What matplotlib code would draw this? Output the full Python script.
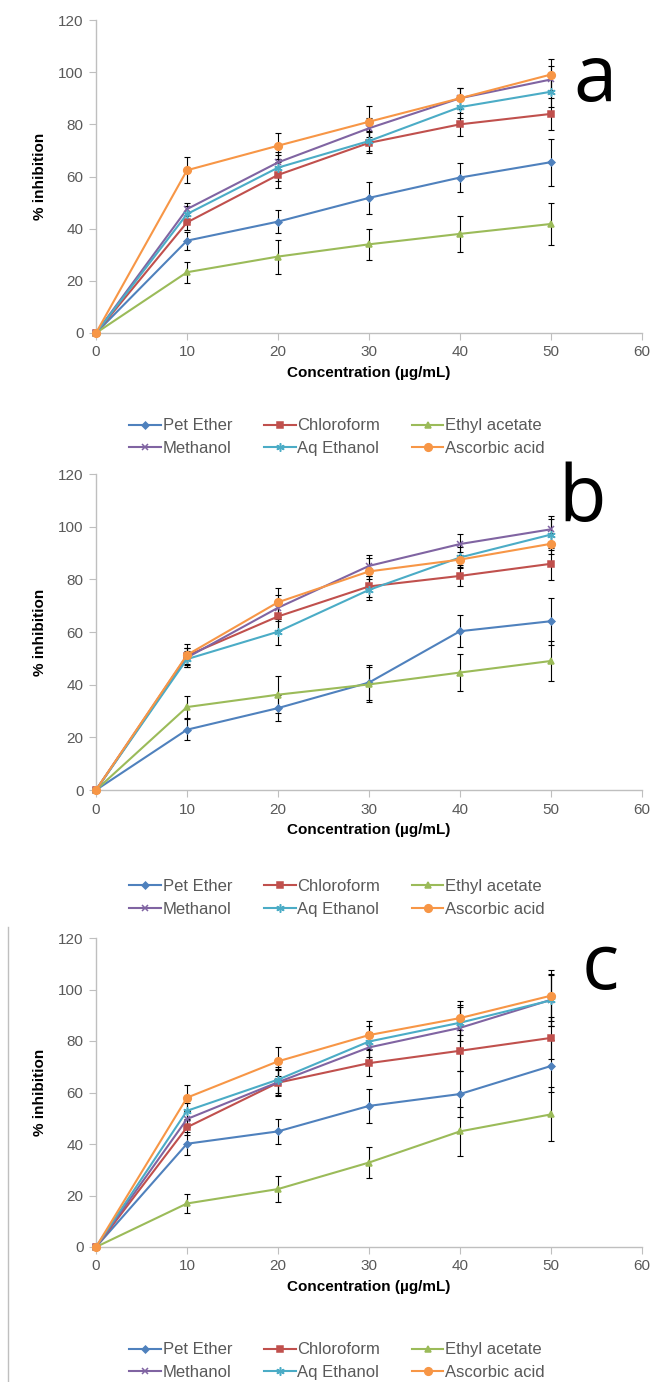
import matplotlib.pyplot as plt
from matplotlib.lines import Line2D

plt.rcParams['font.family'] = ['Liberation Sans', 'DejaVu Sans']

conc = [0, 10, 20, 30, 40, 50]
names = ['Pet Ether', 'Chloroform', 'Ethyl acetate', 'Methanol', 'Aq Ethanol', 'Ascorbic acid']
colors = ['#4F81BD', '#C0504D', '#9BBB59', '#8064A2', '#4BACC6', '#F79646']
markers = ['D', 's', '^', 'x', (6, 2, 0), 'o']
msizes = [3.5, 5, 4.5, 5, 6, 5.5]

# panel a
a_pet = [0, 35.4, 42.7, 51.8, 59.6, 65.5]
a_chl = [0, 42.4, 60.6, 72.9, 80.0, 84.0]
a_eth = [0, 23.3, 29.3, 34.0, 38.0, 41.8]
a_met = [0, 47.5, 65.4, 78.5, 90.0, 97.2]
a_aq = [0, 45.6, 63.4, 73.6, 86.6, 92.5]
a_asc = [0, 62.4, 71.8, 81.0, 90.0, 99.1]
a_pet_err = [0, 3.5, 4.5, 6, 5.5, 9]
a_chl_err = [0, 3, 5, 4, 4.5, 6]
a_eth_err = [0, 4, 6.5, 6, 7, 8]
a_met_err = [0, 2.5, 4, 4, 4, 5]
a_aq_err = [0, 3, 5, 4, 4, 6]
a_asc_err = [0, 5, 5, 6, 4, 6]

# panel b
b_pet = [0, 22.9, 31.1, 40.8, 60.3, 64.1]
b_chl = [0, 51.0, 65.9, 77.3, 81.3, 85.9]
b_eth = [0, 31.5, 36.2, 40.1, 44.6, 49.0]
b_met = [0, 50.3, 69.2, 85.1, 93.4, 99.0]
b_aq = [0, 49.7, 60.1, 76.0, 88.3, 97.0]
b_asc = [0, 51.3, 71.3, 83.0, 87.5, 93.5]
b_pet_err = [0, 4, 5, 6.5, 6, 9]
b_chl_err = [0, 3, 5, 4, 4, 6]
b_eth_err = [0, 4.3, 7, 6.5, 7, 7.5]
b_met_err = [0, 3.5, 5, 4, 4, 5]
b_aq_err = [0, 3, 5, 4, 4, 6]
b_asc_err = [0, 4, 5.5, 5, 3, 4]

# panel c
c_pet = [0, 40.1, 44.9, 54.8, 59.4, 70.3]
c_chl = [0, 46.5, 63.8, 71.4, 76.2, 81.2]
c_eth = [0, 16.9, 22.5, 32.8, 44.9, 51.5]
c_met = [0, 49.7, 64.0, 77.5, 85.1, 96.0]
c_aq = [0, 52.9, 65.0, 79.8, 87.1, 95.8]
c_asc = [0, 58.0, 72.1, 82.3, 88.9, 97.6]
c_pet_err = [0, 4.5, 5, 6.5, 9, 10]
c_chl_err = [0, 3, 5, 5, 8, 8]
c_eth_err = [0, 3.8, 5, 6, 9.5, 10.5]
c_met_err = [0, 3, 5, 6, 8, 10]
c_aq_err = [0, 3, 5, 6, 7, 10]
c_asc_err = [0, 5, 5.5, 5.5, 6.5, 10]

panels = [
    ('a', [a_pet, a_chl, a_eth, a_met, a_aq, a_asc],
     [a_pet_err, a_chl_err, a_eth_err, a_met_err, a_aq_err, a_asc_err]),
    ('b', [b_pet, b_chl, b_eth, b_met, b_aq, b_asc],
     [b_pet_err, b_chl_err, b_eth_err, b_met_err, b_aq_err, b_asc_err]),
    ('c', [c_pet, c_chl, c_eth, c_met, c_aq, c_asc],
     [c_pet_err, c_chl_err, c_eth_err, c_met_err, c_aq_err, c_asc_err]),
]

W, H = 659, 1382
fig = plt.figure(figsize=(W / 100, H / 100), dpi=100)

# pixel boxes: (top, bottom) of each axes, letter position, legend top
boxes = [(20, 333, (595, 80), 410), (474, 790, (582, 500), 871), (938, 1247, (600, 968), 1334)]
left, right = 96, 642
grey = '#595959'
# legend is filled column by column, so put the rows in that order
leg_order = [0, 3, 1, 4, 2, 5]

for (letter, series, errs), (top, bot, lpos, legtop) in zip(panels, boxes):
    ax = fig.add_axes([left / W, 1 - bot / H, (right - left) / W, (bot - top) / H])
    for vals, err, name, col, mk, ms in zip(series, errs, names, colors, markers, msizes):
        ax.errorbar(conc, vals, yerr=err, fmt='none', ecolor='black', elinewidth=0.8,
                    capsize=2.5, capthick=0.8, zorder=2)
        ax.plot(conc, vals, color=col, marker=mk, markersize=ms, linewidth=1.5,
                markeredgecolor=col, markeredgewidth=1.1, label=name, zorder=3, clip_on=False)
    ax.set_xlim(0, 60)
    ax.set_ylim(0, 120)
    ax.set_xticks(range(0, 61, 10))
    ax.set_yticks(range(0, 121, 20))
    for s in ['top', 'right']:
        ax.spines[s].set_visible(False)
    for s in ['left', 'bottom']:
        ax.spines[s].set_color('#BFBFBF')
        ax.spines[s].set_linewidth(1.0)
    ax.tick_params(direction='out', length=5, color='#BFBFBF', labelcolor=grey,
                   labelsize=11, pad=4)
    ax.set_xlabel('Concentration (\u00b5g/mL)', fontsize=11, fontweight='bold', labelpad=5)
    ax.set_ylabel('% inhibition', fontsize=11, fontweight='bold', labelpad=8)
    fig.text(lpos[0] / W, 1 - lpos[1] / H, letter, fontsize=56, family='Open Sans',
             ha='center', va='center', color='black')
    handles, labels = ax.get_legend_handles_labels()
    fig.legend([handles[i] for i in leg_order], [labels[i] for i in leg_order],
               loc='upper left', bbox_to_anchor=(121 / W, 1 - legtop / H),
               ncol=3, frameon=False, fontsize=12, handlelength=1.9, handletextpad=0.1,
               columnspacing=1.9, labelspacing=0.45, labelcolor=grey, borderpad=0)

fig.add_artist(Line2D([8 / W, 8 / W], [0, 1 - 927 / H], color='#BFBFBF', linewidth=1.0))

fig.savefig('out.png', dpi=100)
